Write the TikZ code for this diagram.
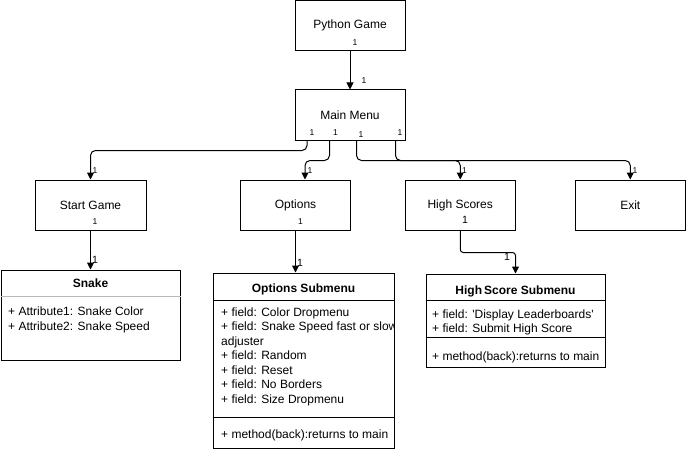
\documentclass[tikz,border=0pt]{standalone}
\usepackage{fontspec}
\setmainfont{Liberation Sans}
\usetikzlibrary{arrows.meta,calc}
\begin{document}
\begin{tikzpicture}[x=1pt,y=-1pt,
  box/.style={draw,line width=1pt,minimum width=110pt,minimum height=50pt,inner sep=0pt,font=\fontsize{12}{14}\selectfont},
  umlbox/.style={draw,line width=1pt,inner sep=0pt},
  txt/.style={anchor=base west,inner sep=0pt,font=\fontsize{12}{14}\selectfont},
  ttl/.style={anchor=base,inner sep=0pt,font=\bfseries\fontsize{12}{14}\selectfont},
  one/.style={inner sep=0.5pt,font=\fontsize{8.5}{10}\selectfont},
  bigone/.style={inner sep=0.5pt,font=\fontsize{10.5}{12}\selectfont},
  conn/.style={line width=1pt,rounded corners=5pt,-{Triangle[length=7pt,width=7pt]}},
  sep/.style={line width=1pt}
]
\useasboundingbox (0,0) rectangle (686,452);
% top-level boxes
\node[box] (pg) at (350,25.5) {Python Game};
\node[box] (mm) at (350,115) {Main Menu};
\node[box,minimum width=111pt] (sg) at (90.5,205) {Start Game};
\node[box] (op) at (295.5,205) {Options};
\node[box] (hs) at (460.25,205) {High Scores};
\node[box] (ex) at (630.25,205) {Exit};
% Snake class
\node[umlbox,minimum width=179pt,minimum height=90pt] (snake) at (90.5,315) {};
\draw[sep,gray!55] ($(snake.north west)+(0,27)$) -- ($(snake.north east)+(0,27)$);
\node[ttl] (snt) at (90.5,287.5) {Snake};
\node[txt] (sa1) at (8,315.5) {+ Attribute1: Snake Color};
\node[txt] (sa2) at (8,330) {+ Attribute2: Snake Speed};
% Options Submenu class
\node[umlbox,minimum width=181pt,minimum height=175pt] (os) at (303.5,360.5) {};
\draw[sep] ($(os.north west)+(0,28)$) -- ($(os.north east)+(0,28)$);
\draw[sep] ($(os.north west)+(0,145)$) -- ($(os.north east)+(0,145)$);
\node[ttl] (ost) at (303.5,292.5) {Options Submenu};
\begin{scope}
\clip (os.north west) rectangle (os.south east);
\node[txt] (of1) at (221,316) {+ field: Color Dropmenu};
\node[txt] (of2) at (221,330.5) {+ field: Snake Speed fast or slow};
\end{scope}
\node[txt] (of3) at (221,345) {adjuster};
\node[txt] (of4) at (221,359.5) {+ field: Random};
\node[txt] (of5) at (221,374) {+ field: Reset};
\node[txt] (of6) at (221,388.5) {+ field: No Borders};
\node[txt] (of7) at (221,403) {+ field: Size Dropmenu};
\node[txt] (om1) at (221,438.5) {+ method(back):returns to main};
% High Score Submenu class
\node[umlbox,minimum width=179pt,minimum height=93pt] (hss) at (515.5,320.5) {};
\draw[sep] ($(hss.north west)+(0,27)$) -- ($(hss.north east)+(0,27)$);
\draw[sep] ($(hss.north west)+(0,64)$) -- ($(hss.north east)+(0,64)$);
\node[ttl] (hst) at (515.5,294.5) {High\kern2pt Score Submenu};
\node[txt] (hf1) at (432,318.5) {+ field: \textquotesingle Display Leaderboards\textquotesingle};
\node[txt] (hf2) at (432,332.5) {+ field: Submit High Score};
\node[txt] (hm1) at (432,360.5) {+ method(back):returns to main};
% connectors
\draw[conn] (pg.south) -- (mm.north);
\draw[conn] ([xshift=12.5pt]mm.south west) -- ++(0,10) -| (sg.north);
\draw[conn] ([xshift=35pt]mm.south west) -- ++(0,20) -| ([xshift=9.5pt]op.north);
\draw[conn] ([xshift=62pt]mm.south west) -- ++(0,20) -| (hs.north);
\draw[conn] ([xshift=101pt]mm.south west) -- ++(0,20) -| (ex.north);
\draw[conn] (sg.south) -- (snake.north);
\draw[conn] (op.south) -- (op.south |- os.north);
\draw[conn,rounded corners=3pt] (hs.south) -- ++(0,22) -| (hss.north);
% multiplicity labels
\node[one] (l1) at (355,43) {1};
\node[one] (l2) at (364,81) {1};
\node[one] (l3) at (312,133) {1};
\node[one] (l4) at (335.5,133) {1};
\node[one,fill=white] (l5) at (361,135) {1};
\node[one] (l6) at (400,133) {1};
\node[one] (l7) at (95,171) {1};
\node[one] (l8) at (310,171) {1};
\node[one] (l9) at (464.5,171) {1};
\node[one] (l10) at (635,171) {1};
\node[one] (l11) at (95,222) {1};
\node[one] (l12) at (300.5,222) {1};
\node[bigone] (l13) at (465,220) {1};
\node[bigone] (l14) at (95,260) {1};
\node[bigone] (l15) at (300,263) {1};
\node[bigone] (l16) at (507,257) {1};
\end{tikzpicture}
\end{document}
